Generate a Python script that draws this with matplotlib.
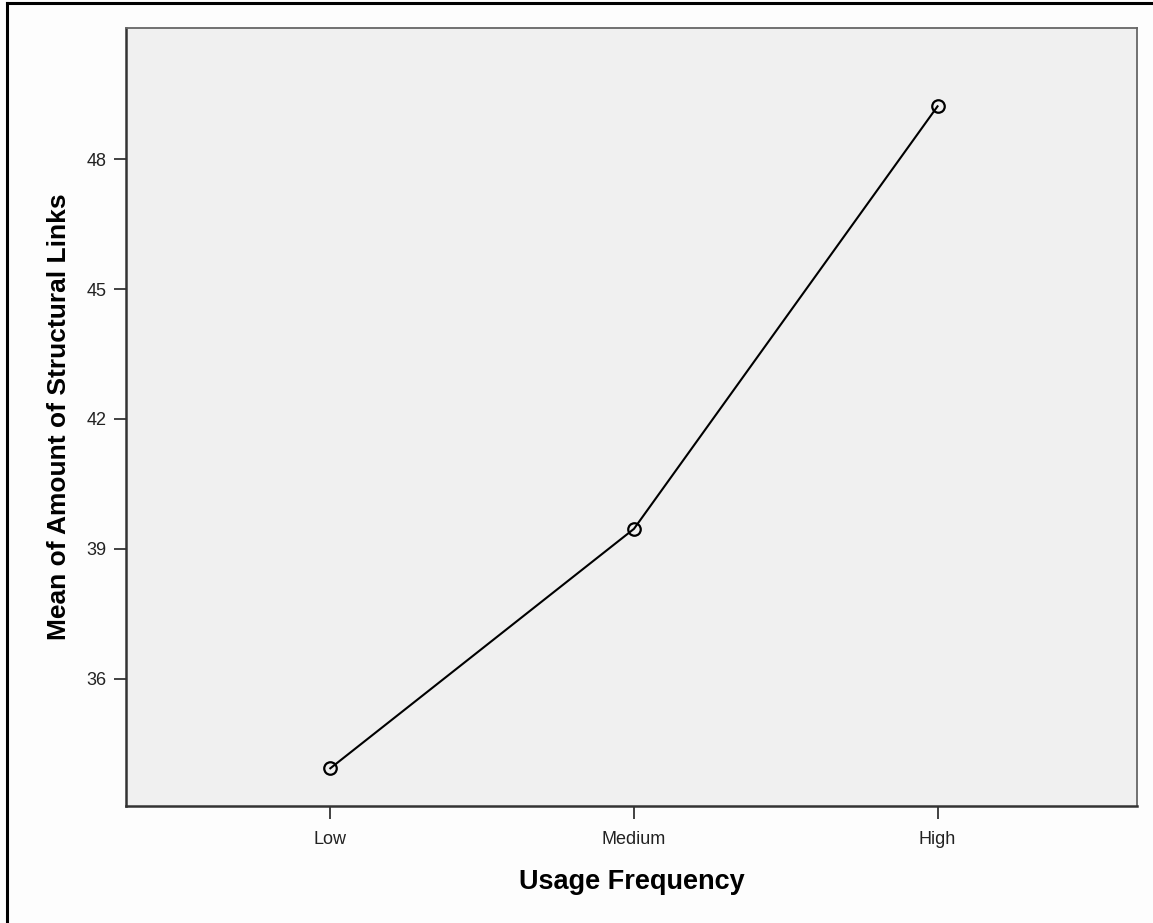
import matplotlib
matplotlib.use("Agg")
import matplotlib.pyplot as plt
from matplotlib.lines import Line2D

categories = ["Low", "Medium", "High"]
means = [33.93, 39.46, 49.22]
y_ticks = [36, 39, 42, 45, 48]

plt.rcParams['font.family'] = ['Liberation Sans', 'DejaVu Sans']

fig = plt.figure(figsize=(11.53, 9.23), dpi=100)
fig.patch.set_facecolor("#fdfdfd")
# frame of the original export, only left and top edges are visible
fig.lines.append(Line2D([0.0065, 0.0065], [0.0, 0.997], transform=fig.transFigure,
                        color="black", linewidth=2.2))
fig.lines.append(Line2D([0.0065, 1.0], [0.997, 0.997], transform=fig.transFigure,
                        color="black", linewidth=2.2))

ax = fig.add_axes([0.1093, 0.1268, 0.8768, 0.8429])
ax.set_facecolor("#f0f0f0")

x = list(range(len(categories)))
ax.plot(x, means, color="black", linewidth=1.5, marker="o", markersize=9,
        markerfacecolor="none", markeredgecolor="black", markeredgewidth=1.6)

ax.set_xlim(-0.673, 2.657)
ax.set_ylim(33.06, 51.03)
ax.set_xticks(x)
ax.set_xticklabels(categories)
ax.set_yticks(y_ticks)
ax.tick_params(direction="out", length=9, width=1.3, color="#333333",
               labelsize=13, labelcolor="#222222")
ax.tick_params(axis="y", pad=5)
ax.tick_params(axis="x", pad=9)

for side in ["left", "bottom"]:
    ax.spines[side].set_color("#333333")
    ax.spines[side].set_linewidth(1.8)
for side in ["top", "right"]:
    ax.spines[side].set_color("#666666")
    ax.spines[side].set_linewidth(1.3)

ax.set_xlabel("Usage Frequency", fontsize=19.5, fontweight="bold", labelpad=15)
ax.set_ylabel("Mean of Amount of Structural Links", fontsize=19,
              fontweight="bold", labelpad=11)

fig.savefig("out.png", dpi=100, facecolor=fig.get_facecolor())
